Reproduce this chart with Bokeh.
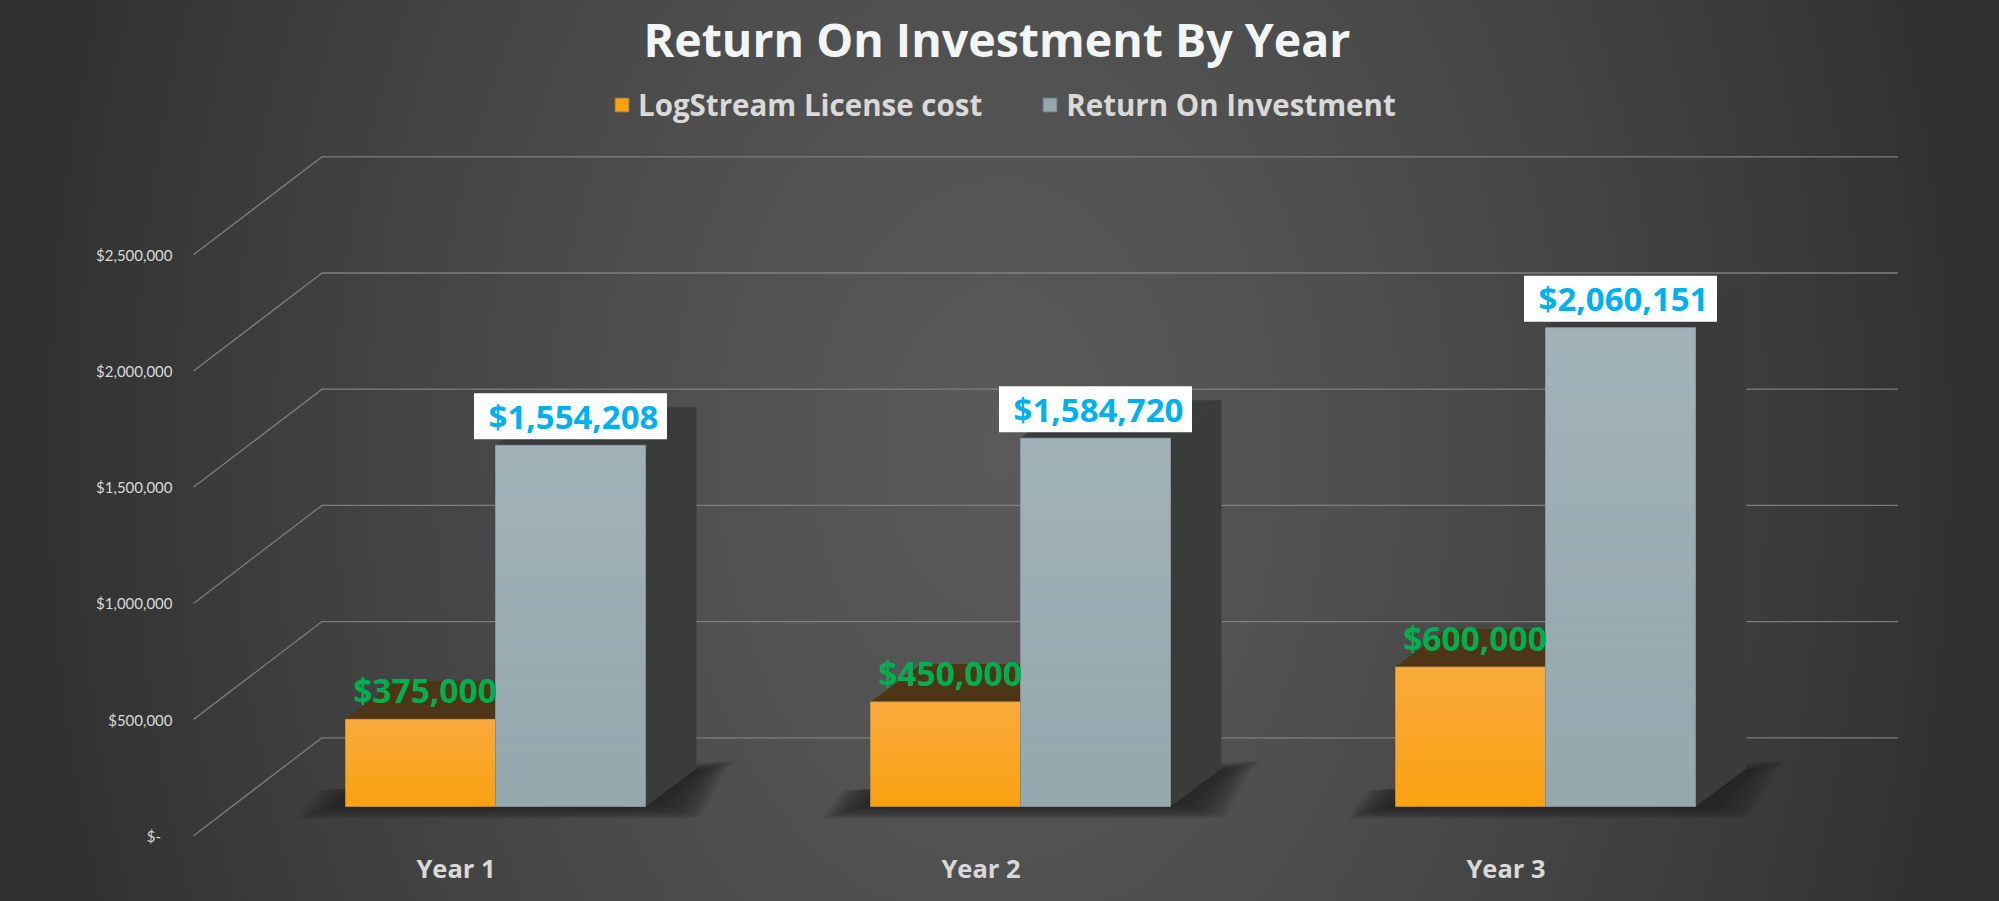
from bokeh.plotting import figure
from bokeh.models import Range1d, FixedTicker, Legend, LegendItem
from bokeh.core.properties import value
from bokeh.embed import file_html
from bokeh.resources import INLINE
import numpy as np

# ---- data ----
categories = ["Year 1", "Year 2", "Year 3"]
license_cost = [375000, 450000, 600000]
roi = [1554208, 1584720, 2060151]
license_labels = ["$375,000", "$450,000", "$600,000"]
roi_labels = ["$1,554,208", "$1,584,720", "$2,060,151"]
y_ticks = [0, 500000, 1000000, 1500000, 2000000, 2500000]
y_tick_labels = ["$-\u00a0\u00a0\u00a0", "$500,000", "$1,000,000", "$1,500,000", "$2,000,000", "$2,500,000"]
title_text = "Return On Investment By Year"
series_names = ["LogStream License cost", "Return On Investment"]

# ---- page geometry (page pixels) ----
W, H = 1999, 901
F_L, F_R, F_T, F_B = 190.0, 1899.0, 70.0, 838.0
X0 = 193.0           # x of category 0 on the front plane
CAT = 525.0          # px per category
PY = 116.2 / 500000  # px per dollar
ZERO_FRONT = 835.3
ZERO_BARS = 806.0
BACK_DX, BACK_DY = 128.5, 98.0
BAR_SHIFT, BAR_W = 39.5, 150.0
SIDE_DX, SIDE_DY = 51.0, 38.0
FONT = "Open Sans"
AXIS_FONT = "Lato"

p = figure(width=W, height=H, output_backend="svg", toolbar_location=None,
           x_range=Range1d((F_L - X0) / CAT, (F_R - X0) / CAT),
           y_range=Range1d((ZERO_FRONT - F_B) / PY, (ZERO_FRONT - F_T) / PY),
           min_border_left=int(F_L), min_border_right=int(W - F_R),
           min_border_top=int(F_T), min_border_bottom=int(H - F_B),
           border_fill_color=None, background_fill_color=None, outline_line_color=None)
p.extra_y_ranges = {"bars": Range1d((ZERO_BARS - F_B) / PY, (ZERO_BARS - F_T) / PY)}
p.xgrid.visible = False
p.ygrid.visible = False

# title
p.title.text = title_text
p.title.align = "left"
p.title.offset = 453
p.title.standoff = 0
p.title.text_font = FONT
p.title.text_font_style = "bold"
p.title.text_font_size = "46.5px"
p.title.text_color = "#f1f5f5"

# axes
p.yaxis.ticker = FixedTicker(ticks=y_ticks)
p.yaxis.major_label_overrides = dict(zip(y_ticks, y_tick_labels))
p.yaxis.axis_line_color = None
p.yaxis.major_tick_line_color = None
p.yaxis.minor_tick_line_color = None
p.yaxis.major_label_standoff = 12
p.yaxis.major_label_text_font = AXIS_FONT
p.yaxis.major_label_text_font_size = "15px"
p.yaxis.major_label_text_color = "#d9d9d9"

centers = [i + 0.5 for i in range(len(categories))]
p.xaxis.ticker = FixedTicker(ticks=centers)
p.xaxis.major_label_overrides = dict(zip(centers, categories))
p.xaxis.axis_line_color = None
p.xaxis.major_tick_line_color = None
p.xaxis.minor_tick_line_color = None
p.xaxis.major_label_standoff = 6
p.xaxis.major_label_text_font = FONT
p.xaxis.major_label_text_font_style = "bold"
p.xaxis.major_label_text_font_size = "25.5px"
p.xaxis.major_label_text_color = "#d9d9d9"

# floor shadows
bw = BAR_W / CAT
sdx, sdy = SIDE_DX / CAT, SIDE_DY / PY
left = [c + BAR_SHIFT / CAT - bw for c in centers]
mid = [c + BAR_SHIFT / CAT for c in centers]
right = [c + BAR_SHIFT / CAT + bw for c in centers]
for k in range(20, -1, -1):
    xs, ys = [], []
    for l, r in zip(left, right):
        L, R = X0 + l * CAT, X0 + r * CAT
        pts = [(L - 8, 806), (L + 12, 790), (R + 50, 772), (R + 40, 782), (R + 16, 804), (R, 806)]
        cx, cy = (L + R) / 2, 790
        out = []
        for (px, py) in pts:
            sx = np.sign(px - cx)
            sy = np.sign(py - cy)
            out.append((px + sx * k * 2.0, py + sy * k * 0.6))
        xs.append([(q[0] - X0) / CAT for q in out])
        ys.append([(ZERO_BARS - q[1]) / PY for q in out])
    p.patches(xs, ys, y_range_name="bars", fill_color="#262626", fill_alpha=0.08, line_color=None)

# gridlines: slanted side wall plus horizontal back wall
back_y = BACK_DY / PY
back_x = BACK_DX / CAT
grid_end = (1897.6 - X0) / CAT
p.multi_line([[0, back_x, grid_end] for _ in y_ticks],
             [[v, v + back_y, v + back_y] for v in y_ticks],
             line_color="#858585", line_width=1.3, line_alpha=0.9)


def faces(l, r, vals, side_col, cap_col):
    p.patches([[a, a + sdx, a + sdx, a] for a in r],
              [[0, sdy, v + sdy, v] for v in vals],
              y_range_name="bars", fill_color=side_col, line_color=None)
    p.patches([[a, a + sdx, b + sdx, b] for a, b in zip(l, r)],
              [[v, v + sdy, v + sdy, v] for v in vals],
              y_range_name="bars", fill_color=cap_col, line_color=None)


def shade(l, vals, rgb, strength):
    ramp = np.zeros((64, 1), dtype=np.uint32)
    view = ramp.view(dtype=np.uint8).reshape((64, 1, 4))
    view[:, 0, 0], view[:, 0, 1], view[:, 0, 2] = rgb
    view[:, 0, 3] = (np.linspace(0, 1, 64) * 255 * strength).astype(np.uint8)
    p.image_rgba(image=[ramp] * len(vals), x=l, y=[0] * len(vals), dw=[bw] * len(vals),
                 dh=vals, y_range_name="bars")


# orange bars
faces(left, mid, license_cost, "#4d3516", "#4d3516")
orange = p.vbar(x=[(a + b) / 2 for a, b in zip(left, mid)], width=bw, bottom=0, top=license_cost,
                y_range_name="bars", fill_color="#fba212", line_color="#b5893d", line_width=1)
shade(left, license_cost, (246, 176, 90), 0.6)

# grey bars
faces(mid, right, roi, "#3a3c3c", "#3a3c3c")
grey = p.vbar(x=[(a + b) / 2 for a, b in zip(mid, right)], width=bw, bottom=0, top=roi,
              y_range_name="bars", fill_color="#95a8ae", line_color="#808c90", line_width=1)
shade(mid, roi, (176, 192, 198), 0.45)

# value labels
grey_c = [(a + b) / 2 for a, b in zip(mid, right)]
orange_c = [(a + b) / 2 + 4.5 / CAT for a, b in zip(left, mid)]
p.rect(x=grey_c, y=[v + 29 / PY for v in roi], width=193, width_units="screen",
       height=46, height_units="screen", y_range_name="bars",
       fill_color="#ffffff", line_color=None)
p.text(x=grey_c, y=[v + 29 / PY for v in roi], text=roi_labels, y_range_name="bars", x_offset=3,
       text_align="center", text_baseline="middle", text_font=value(FONT),
       text_font_style="bold", text_font_size="33px", text_color="#00b0f0")
p.text(x=orange_c, y=license_cost, text=license_labels, y_range_name="bars", y_offset=-29,
       text_align="center", text_baseline="middle", text_font=value(FONT),
       text_font_style="bold", text_font_size="33.5px", text_color="#00b050")

# legend
legend = Legend(items=[LegendItem(label=series_names[0], renderers=[orange]),
                       LegendItem(label=series_names[1], renderers=[grey])],
                orientation="horizontal", location=(423, 713), padding=0, margin=0,
                spacing=59, glyph_width=17, glyph_height=17, label_standoff=8,
                background_fill_alpha=0, border_line_color=None, click_policy="none",
                label_text_font=FONT, label_text_font_style="bold",
                label_text_font_size="29.5px", label_text_color="#d9d9d9",
                label_height=20)
p.add_layout(legend, "center")

html = file_html(p, INLINE)
bg = ("<style>html{overflow:hidden;background:radial-gradient(ellipse 1000px 1460px at 50% 50%,"
      "#5a5a5a 0,#4f4f4f 35%,#3f3f3f 70%,#2f2f2f 100%) no-repeat #2e2e2e;}"
      "body{background:transparent}</style>")
html = html.replace("</head>", bg + "</head>", 1)
open("out.html", "w").write(html)
